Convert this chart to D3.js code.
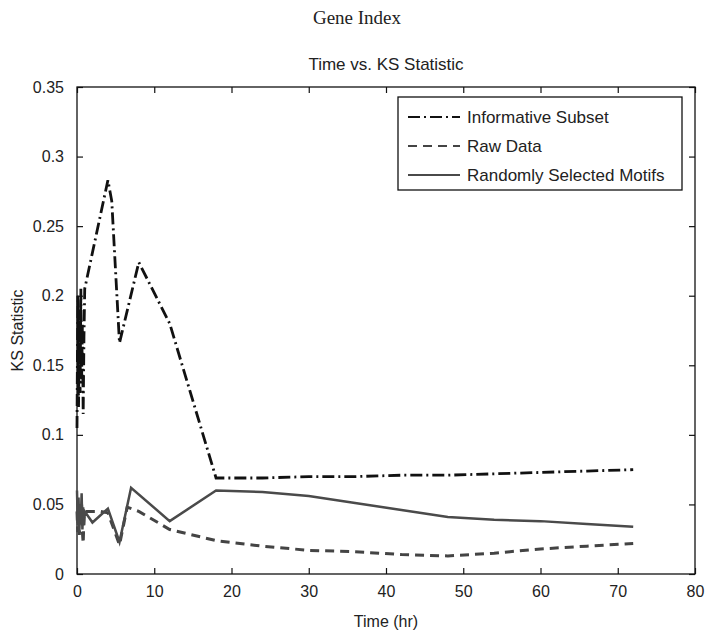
<!DOCTYPE html>
<html>
<head>
<meta charset="utf-8">
<script src="https://cdn.jsdelivr.net/npm/d3@7"></script>
<style>
  body { margin: 0; background: #fff; }
  text { font-family: "Liberation Sans", Arial, sans-serif; fill: #222; }
</style>
</head>
<body>
<svg id="chart" width="715" height="639"></svg>
<script>
// series (time in hours, KS statistic)
var infoTime = [0, 0.1, 0.2, 0.3, 0.4, 0.5, 0.6, 0.7, 0.8, 0.9, 1, 4, 4.5, 5.5, 8, 12, 18, 24, 30, 36, 42, 48, 54, 60, 66, 72];
var infoKS = [0.105, 0.2, 0.12, 0.19, 0.13, 0.205, 0.14, 0.18, 0.115, 0.17, 0.205, 0.283, 0.268, 0.166, 0.224, 0.18, 0.069, 0.069, 0.07, 0.07, 0.071, 0.071, 0.072, 0.073, 0.074, 0.075];

var rawTime = [0, 0.1, 0.2, 0.3, 0.4, 0.5, 0.6, 0.7, 0.8, 0.9, 1, 3, 4, 5.5, 6.5, 8, 12, 18, 24, 30, 36, 42, 48, 54, 60, 66, 72];
var rawKS = [0.045, 0.03, 0.05, 0.028, 0.045, 0.035, 0.05, 0.03, 0.022, 0.04, 0.045, 0.045, 0.044, 0.021, 0.048, 0.045, 0.032, 0.024, 0.02, 0.017, 0.016, 0.014, 0.013, 0.015, 0.018, 0.02, 0.022];

var randTime = [0, 0.1, 0.2, 0.3, 0.4, 0.5, 0.6, 0.7, 0.8, 0.9, 1, 2, 4, 5.5, 7, 12, 18, 24, 30, 36, 42, 48, 54, 60, 66, 72];
var randKS = [0.06, 0.035, 0.055, 0.03, 0.05, 0.04, 0.058, 0.032, 0.048, 0.035, 0.045, 0.037, 0.047, 0.023, 0.062, 0.038, 0.06, 0.059, 0.056, 0.051, 0.046, 0.041, 0.039, 0.038, 0.036, 0.034];

var seriesNames = ["Informative Subset", "Raw Data", "Randomly Selected Motifs"];
var xTicks = [0, 10, 20, 30, 40, 50, 60, 70, 80];
var yTicks = [0, 0.05, 0.1, 0.15, 0.2, 0.25, 0.3, 0.35];

var svg = d3.select("#chart"),
  margin = { top: 87, right: 20, bottom: 65, left: 77 },
  width = +svg.attr("width") - margin.left - margin.right,
  height = +svg.attr("height") - margin.top - margin.bottom;

var x = d3.scaleLinear().domain([0, 80]).range([margin.left, margin.left + width]);
var y = d3.scaleLinear().domain([0, 0.35]).range([margin.top + height, margin.top]);

var series = [
  { name: seriesNames[0], time: infoTime, ks: infoKS, color: "#111", width: 2.8, dash: "12,4,2,4" },
  { name: seriesNames[1], time: rawTime, ks: rawKS, color: "#444", width: 3, dash: "9,6" },
  { name: seriesNames[2], time: randTime, ks: randKS, color: "#4a4a4a", width: 2.5, dash: null }
];

var line = d3.line()
  .x(d => x(d[0]))
  .y(d => y(d[1]));

// titles
svg.append("text")
  .attr("x", 357).attr("y", 24)
  .attr("text-anchor", "middle")
  .style("font-family", "'Liberation Serif', 'Times New Roman', serif")
  .style("font-size", "19px")
  .text("Gene Index");

svg.append("text")
  .attr("x", x(40)).attr("y", 70)
  .attr("text-anchor", "middle")
  .style("font-size", "17px")
  .text("Time vs. KS Statistic");

// frame
svg.append("rect")
  .attr("x", x(0)).attr("y", y(0.35))
  .attr("width", x(80) - x(0)).attr("height", y(0) - y(0.35))
  .attr("fill", "none").attr("stroke", "#111").attr("stroke-width", 1.3);

// axes, ticks point inward like matlab
var tl = 6;
svg.append("g")
  .attr("class", "x-axis")
  .attr("transform", "translate(0," + y(0) + ")")
  .call(d3.axisBottom(x).tickValues(xTicks).tickSize(-tl).tickPadding(12).tickFormat(d3.format("d")));

svg.append("g")
  .attr("transform", "translate(0," + y(0.35) + ")")
  .call(d3.axisTop(x).tickValues(xTicks).tickSize(-tl).tickFormat(""));

svg.append("g")
  .attr("class", "y-axis")
  .attr("transform", "translate(" + x(0) + ",0)")
  .call(d3.axisLeft(y).tickValues(yTicks).tickSize(-tl).tickPadding(13).tickFormat(d => d3.format("~g")(d)));

svg.append("g")
  .attr("transform", "translate(" + x(80) + ",0)")
  .call(d3.axisRight(y).tickValues(yTicks).tickSize(-tl).tickFormat(""));

svg.selectAll(".domain").remove();
svg.selectAll(".tick line").attr("stroke", "#111").attr("stroke-width", 1.2);
svg.selectAll(".tick text").style("font-size", "16px").style("font-family", "'Liberation Sans', Arial, sans-serif").attr("fill", "#222");

// axis labels
svg.append("text")
  .attr("x", x(40)).attr("y", 627)
  .attr("text-anchor", "middle")
  .style("font-size", "16px")
  .text("Time (hr)");

svg.append("text")
  .attr("transform", "translate(23," + y(0.175) + ") rotate(-90)")
  .attr("text-anchor", "middle")
  .style("font-size", "16px")
  .text("KS Statistic");

// lines
svg.selectAll(".series")
  .data(series)
  .enter().append("path")
  .attr("class", "series")
  .attr("fill", "none")
  .attr("stroke", d => d.color)
  .attr("stroke-width", d => d.width)
  .attr("stroke-dasharray", d => d.dash)
  .attr("stroke-linejoin", "miter")
  .attr("d", d => line(d3.zip(d.time, d.ks)));

// legend
var legend = svg.append("g").attr("transform", "translate(398,97)");
legend.append("rect")
  .attr("width", 284).attr("height", 93)
  .attr("fill", "#fff").attr("stroke", "#111").attr("stroke-width", 1.3);

var rows = legend.selectAll(".row")
  .data(series)
  .enter().append("g")
  .attr("transform", (d, i) => "translate(0," + (20 + i * 29) + ")");

rows.append("line")
  .attr("x1", 10).attr("x2", 62)
  .attr("stroke", d => d.color)
  .attr("stroke-width", 2)
  .attr("stroke-dasharray", d => d.dash);

rows.append("text")
  .attr("x", 69).attr("dy", "0.35em")
  .style("font-size", "17px")
  .text(d => d.name);
</script>
</body>
</html>
